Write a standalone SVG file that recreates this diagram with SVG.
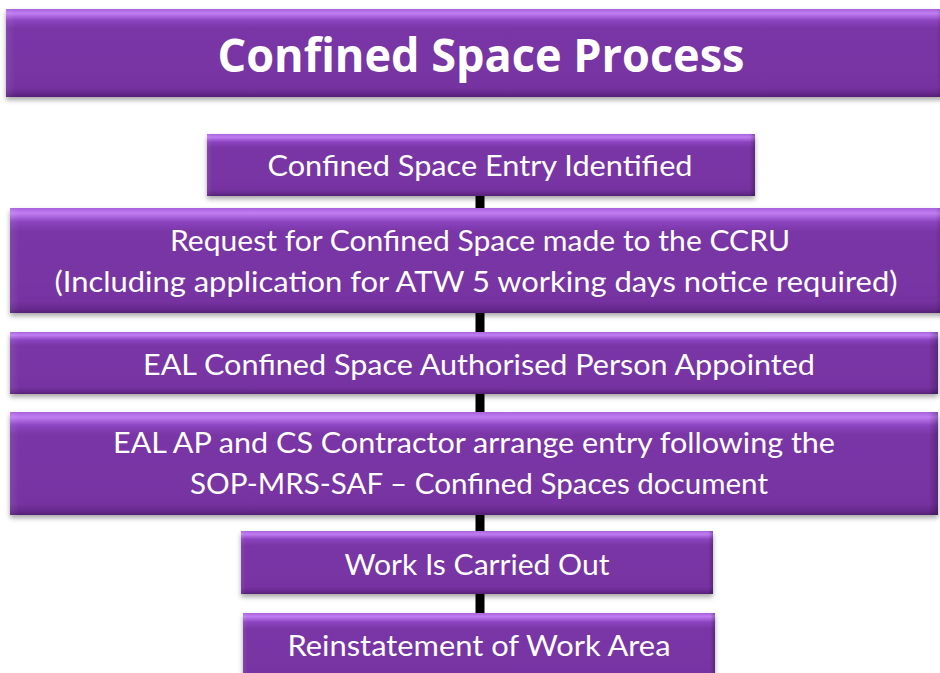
<svg xmlns="http://www.w3.org/2000/svg" width="940" height="673" viewBox="0 0 940 673">
<defs>
<linearGradient id="bev" x1="0" y1="0" x2="0" y2="1">
<stop offset="0" stop-color="#a862dc"/>
<stop offset="0.05" stop-color="#c07df2"/>
<stop offset="0.13" stop-color="#8c44c0"/>
<stop offset="0.22" stop-color="#7a36a6"/>
<stop offset="0.88" stop-color="#7733a2"/>
<stop offset="0.95" stop-color="#6a2b92"/>
<stop offset="1" stop-color="#552076"/>
</linearGradient>
<linearGradient id="side" x1="0" y1="0" x2="1" y2="0">
<stop offset="0" stop-color="#ffffff" stop-opacity="0.08"/>
<stop offset="0.01" stop-color="#ffffff" stop-opacity="0"/>
<stop offset="0.99" stop-color="#000000" stop-opacity="0"/>
<stop offset="1" stop-color="#000000" stop-opacity="0.25"/>
</linearGradient>
<filter id="sh" x="-5%" y="-10%" width="110%" height="130%">
<feDropShadow dx="0" dy="3" stdDeviation="2.5" flood-color="#000" flood-opacity="0.35"/>
</filter>
</defs>
<style>
.box{fill:url(#bev);filter:url(#sh)}
.edge{fill:url(#side)}
.t{font-family:Lato,"Open Sans","Liberation Sans",sans-serif;fill:#fff;font-size:28px;text-anchor:middle}
.title{font-family:"Open Sans",Lato,"Liberation Sans",sans-serif;font-weight:bold;fill:#fff;font-size:46px;text-anchor:middle}
.conn{stroke:#000;stroke-width:9;fill:none}
</style>
<g id="connectors">
<line class="conn" x1="480" y1="195" x2="480" y2="613"/>
</g>
<g id="title">
<rect class="box" x="6" y="9" width="940" height="88"/>
<rect class="edge" x="6" y="9" width="940" height="88"/>
<text class="title" x="481" y="72" textLength="527" lengthAdjust="spacingAndGlyphs">Confined Space Process</text>
</g>
<g id="n1">
<rect class="box" x="207" y="134" width="548" height="62"/>
<rect class="edge" x="207" y="134" width="548" height="62"/>
<text class="t" x="480" y="176" textLength="425" lengthAdjust="spacingAndGlyphs">Confined Space Entry Identified</text>
</g>
<g id="n2">
<rect class="box" x="10" y="208" width="935" height="105"/>
<rect class="edge" x="10" y="208" width="935" height="105"/>
<text class="t" x="480" y="251" textLength="620" lengthAdjust="spacingAndGlyphs">Request for Confined Space made to the CCRU</text>
<text class="t" x="476" y="292" textLength="843" lengthAdjust="spacingAndGlyphs">(Including application for ATW 5 working days notice required)</text>
</g>
<g id="n3">
<rect class="box" x="10" y="332" width="928" height="62"/>
<rect class="edge" x="10" y="332" width="928" height="62"/>
<text class="t" x="479" y="375" textLength="672" lengthAdjust="spacingAndGlyphs">EAL Confined Space Authorised Person Appointed</text>
</g>
<g id="n4">
<rect class="box" x="10" y="412" width="928" height="103"/>
<rect class="edge" x="10" y="412" width="928" height="103"/>
<text class="t" x="474" y="453" textLength="722" lengthAdjust="spacingAndGlyphs">EAL AP and CS Contractor arrange entry following the</text>
<text class="t" x="479" y="494" textLength="578" lengthAdjust="spacingAndGlyphs">SOP-MRS-SAF – Confined Spaces document</text>
</g>
<g id="n5">
<rect class="box" x="241" y="531" width="472" height="63"/>
<rect class="edge" x="241" y="531" width="472" height="63"/>
<text class="t" x="477" y="575" textLength="265" lengthAdjust="spacingAndGlyphs">Work Is Carried Out</text>
</g>
<g id="n6">
<rect class="box" x="243" y="613" width="472" height="70"/>
<rect class="edge" x="243" y="613" width="472" height="70"/>
<text class="t" x="479" y="656" textLength="383" lengthAdjust="spacingAndGlyphs">Reinstatement of Work Area</text>
</g>
</svg>
